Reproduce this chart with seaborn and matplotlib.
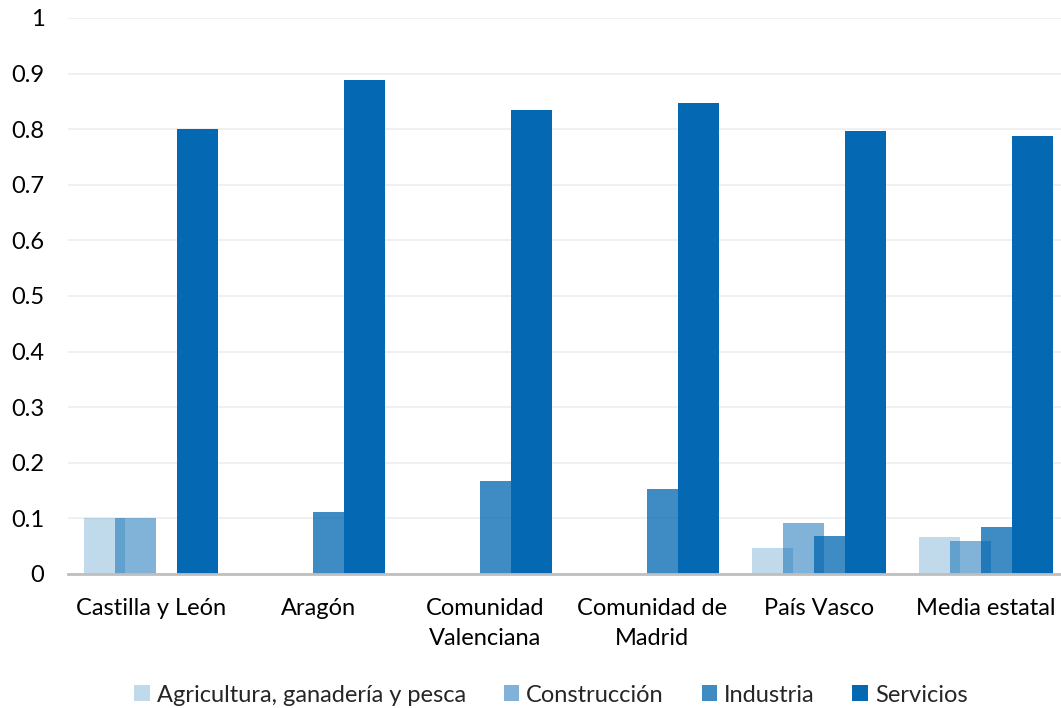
import numpy as np
import matplotlib
matplotlib.use("Agg")
import matplotlib.pyplot as plt
import seaborn as sns
from matplotlib.patches import Patch

categories = ["Castilla y León", "Aragón", "Comunidad\nValenciana",
              "Comunidad de\nMadrid", "País Vasco", "Media estatal"]
series_names = ["Agricultura, ganadería y pesca", "Construcción", "Industria", "Servicios"]
agricultura = [0.100, 0.0, 0.0, 0.0, 0.046, 0.067]
construccion = [0.100, 0.0, 0.0, 0.0, 0.091, 0.059]
industria = [0.0, 0.112, 0.167, 0.153, 0.068, 0.084]
servicios = [0.800, 0.889, 0.834, 0.847, 0.796, 0.788]
y_ticks = [0, 0.1, 0.2, 0.3, 0.4, 0.5, 0.6, 0.7, 0.8, 0.9, 1]
y_tick_labels = ["0", "0.1", "0.2", "0.3", "0.4", "0.5", "0.6", "0.7", "0.8", "0.9", "1"]

sns.set_theme(style="white")
plt.rcParams['font.family'] = ['Lato', 'DejaVu Sans']

base = (5/255, 104/255, 178/255)
alphas = [0.25, 0.5, 0.77, 1.0]
offsets = [-0.279, -0.093, 0.093, 0.279]
bar_w = 0.246

fig = plt.figure(figsize=(10.61, 7.08), dpi=100)
ax = fig.add_axes([68/1061, 1 - 574/708, (1069 - 68)/1061, (574 - 18)/708])

all_series = [agricultura, construccion, industria, servicios]
xs = np.arange(len(categories))
for vals, off, a in zip(all_series, offsets, alphas):
    sns.barplot(x=xs + off, y=vals, native_scale=True, width=bar_w,
                color=base, alpha=a, saturation=1, linewidth=0,
                errorbar=None, ax=ax, zorder=3)

ax.set_xlim(-0.5, len(categories) - 0.5)
ax.set_ylim(0, 1)
ax.set_yticks(y_ticks)
ax.set_yticklabels(y_tick_labels)
ax.set_xticks(xs)
ax.set_xticklabels(categories, linespacing=1.55)
ax.tick_params(axis='y', length=0, pad=17, labelsize=17, colors='#000000')
ax.tick_params(axis='x', length=0, pad=17, labelsize=17, colors='#000000')
ax.grid(axis='y', color='#EEEEEE', linewidth=1.2, zorder=0)
ax.set_axisbelow(True)
for s in ['left', 'right', 'top']:
    ax.spines[s].set_visible(False)
ax.spines['bottom'].set_color('#BFBFBF')
ax.spines['bottom'].set_linewidth(2)
ax.spines['bottom'].set_zorder(4)

handles = [Patch(facecolor=base, alpha=a, edgecolor='none') for a in alphas]
fig.legend(handles, series_names, loc='center', bbox_to_anchor=(551/1061, 1 - 695/708),
           ncol=4, frameon=False, fontsize=17, handlelength=0.65, handleheight=0.65,
           handletextpad=0.3, columnspacing=1.6)

fig.savefig("out.png", dpi=100)
